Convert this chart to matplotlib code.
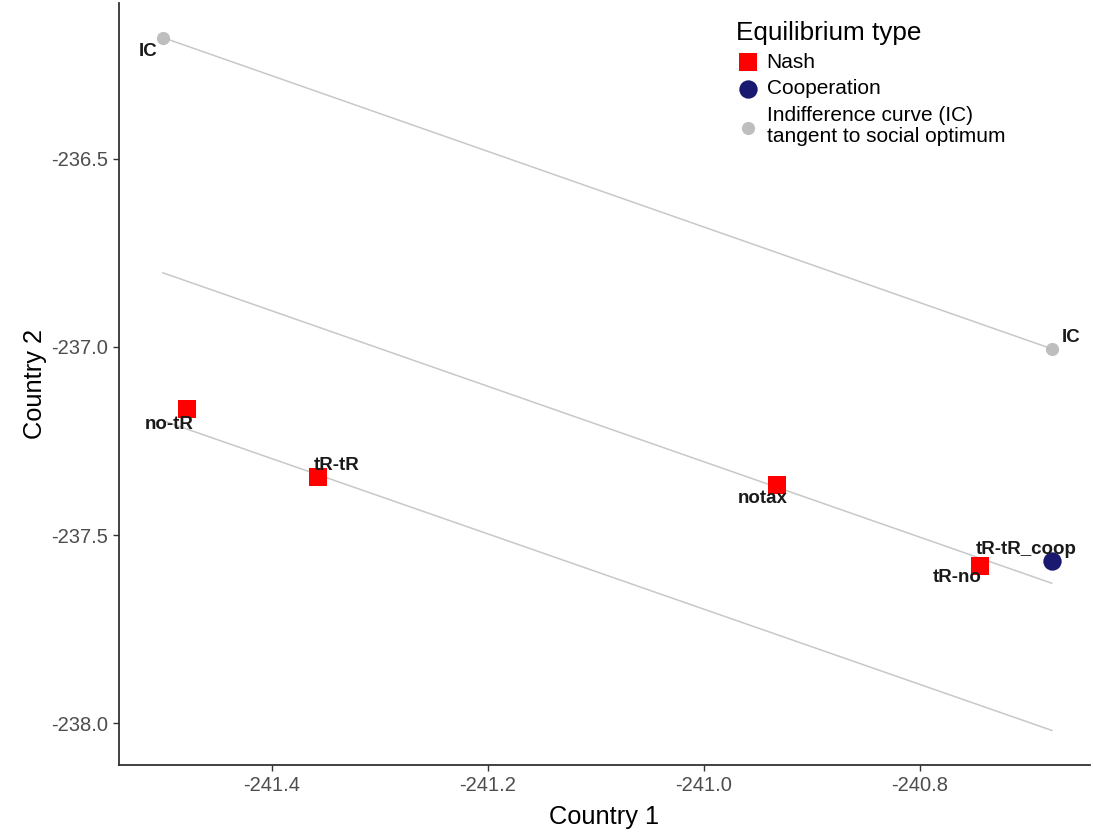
import matplotlib
matplotlib.use("Agg")
import matplotlib.pyplot as plt

plt.rcParams['font.family'] = ['Liberation Sans', 'DejaVu Sans']

# Nash equilibria
nash_labels = ['no-tR', 'tR-tR', 'notax', 'tR-no']
nash_x = [-241.479, -241.357, -240.932, -240.744]
nash_y = [-237.165, -237.346, -237.367, -237.582]

# cooperative equilibrium
coop_labels = ['tR-tR_coop']
coop_x = [-240.678]
coop_y = [-237.569]

# points of the indifference curve tangent to the social optimum
ic_labels = ['IC', 'IC']
ic_x = [-241.501, -240.678]
ic_y = [-236.178, -237.005]

# indifference curves (end points)
curve_x = [-241.501, -240.678]
curve_top = [-236.178, -237.005]
curve_mid = [-236.803, -237.628]
curve_low = [-237.196, -238.019]

fig = plt.figure(figsize=(10.93, 8.32), dpi=100)
ax = fig.add_axes([119 / 1093, 67 / 832, 971 / 1093, 762 / 832])

for cy in (curve_top, curve_mid, curve_low):
    ax.plot(curve_x, cy, color='#c8c8c8', lw=1.1, zorder=1)

ax.scatter(ic_x, ic_y, s=90, color='#bebebe', marker='o', lw=0, zorder=3,
           label='Indifference curve (IC)\ntangent to social optimum')
ax.scatter(nash_x, nash_y, s=165, color='#ff0000', marker='s', lw=0, zorder=3,
           label='Nash')
ax.scatter(coop_x, coop_y, s=175, color='#191970', marker='o', lw=0, zorder=3,
           label='Cooperation')

# label offsets in pixels (dx, dy)
offsets = {
    'no-tR': (-18, -15), 'tR-tR': (18, 12), 'notax': (-15, -13),
    'tR-no': (-23, -12), 'tR-tR_coop': (-26, 12),
}
ic_offsets = [(-15, -14), (19, 11)]

def put(label, x, y, off):
    ax.annotate(label, (x, y), xytext=off, textcoords='offset pixels',
                ha='center', va='center', fontsize=13.5, fontweight='bold',
                color='#1a1a1a', zorder=4)

for lab, x, y in zip(nash_labels, nash_x, nash_y):
    put(lab, x, y, offsets[lab])
for lab, x, y in zip(coop_labels, coop_x, coop_y):
    put(lab, x, y, offsets[lab])
for lab, x, y, off in zip(ic_labels, ic_x, ic_y, ic_offsets):
    put(lab, x, y, off)

ax.set_xlim(-241.5417, -240.6426)
ax.set_ylim(-238.111, -236.086)
ax.set_xticks([-241.4, -241.2, -241.0, -240.8])
ax.set_yticks([-238.0, -237.5, -237.0, -236.5])
ax.set_xticklabels(['-241.4', '-241.2', '-241.0', '-240.8'])
ax.set_yticklabels(['-238.0', '-237.5', '-237.0', '-236.5'])

for side in ('top', 'right'):
    ax.spines[side].set_visible(False)
for side in ('left', 'bottom'):
    ax.spines[side].set_color('#333333')
    ax.spines[side].set_linewidth(1.3)
ax.tick_params(length=4, width=1.0, color='#333333', labelcolor='#4d4d4d',
               labelsize=14.5, pad=4)

ax.set_xlabel('Country 1', fontsize=18.3, color='black', labelpad=7)
ax.set_ylabel('Country 2', fontsize=18.3, color='black', labelpad=3)

handles, labels = ax.get_legend_handles_labels()
order = [1, 2, 0]
leg = ax.legend([handles[i] for i in order], [labels[i] for i in order],
                title='Equilibrium type', loc='upper left',
                bbox_to_anchor=(0.635, 0.976), frameon=False,
                fontsize=15, title_fontsize=18.8, alignment='left',
                handlelength=1.15, handletextpad=0.34, labelspacing=0.36,
                borderpad=0, borderaxespad=0)
leg.get_texts()[2].set_linespacing(1.15)

fig.savefig('out.png', dpi=100)
